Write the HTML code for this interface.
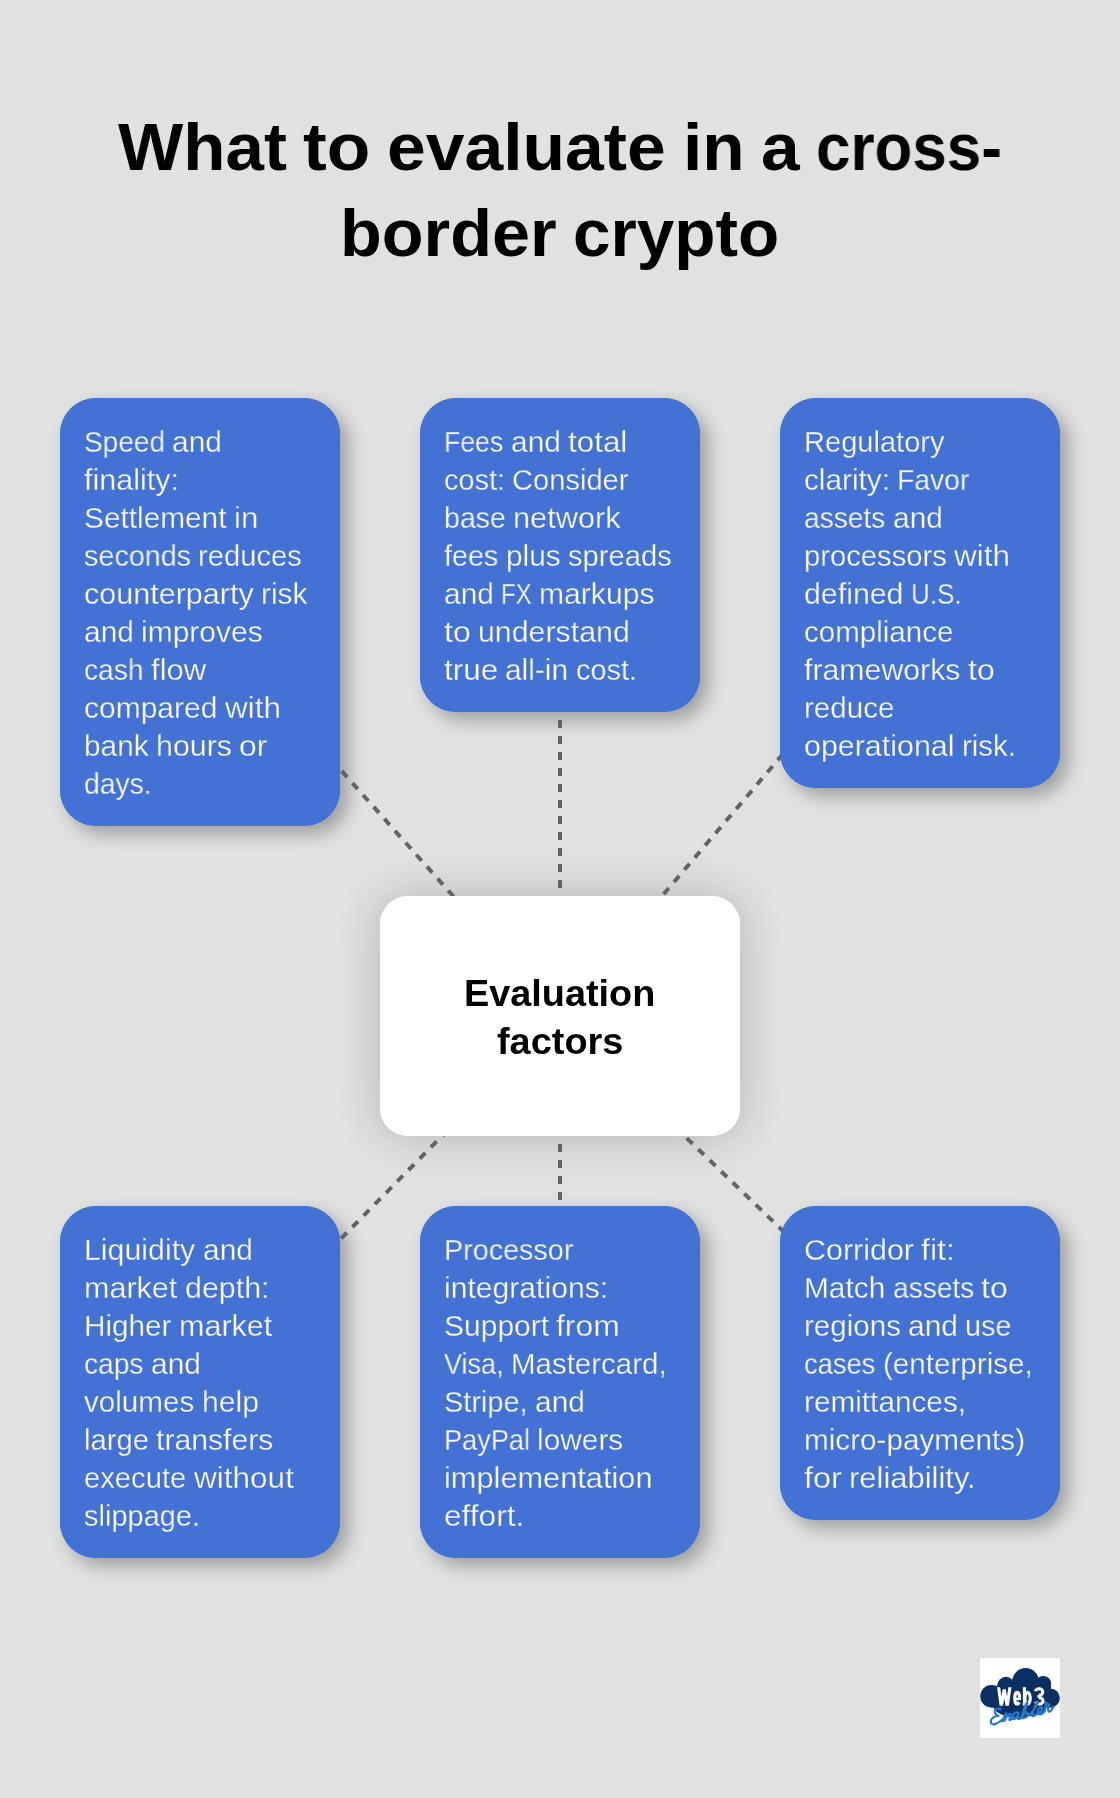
<!DOCTYPE html>
<html><head><meta charset="utf-8"><title>What to evaluate in a cross-border crypto</title>
<style>
html,body{margin:0;padding:0}
body{width:1120px;height:1798px;background:#dfe2e0;position:relative;overflow:hidden;font-family:"Liberation Sans",sans-serif}
.box{position:absolute;width:280px;background:#4472d4;border-radius:36px}
.box.sh{box-shadow:8px 8px 18px rgba(0,0,0,0.30)}
.center{position:absolute;left:380px;top:896px;width:360px;height:240px;background:#fff;border-radius:28px}
.center.sh{box-shadow:0 0 46px rgba(0,0,0,0.20)}
.ln{position:absolute;white-space:nowrap;line-height:1;transform-origin:0 50%;will-change:transform}
.ln.ctr{transform-origin:50% 50%;text-align:center}
.b{font-size:29.0px;color:#fff;-webkit-text-stroke:0.3px #4472d4}
.t{font-size:66.4px;font-weight:700;color:#000}
.c{font-size:37.4px;font-weight:700;color:#000}
svg.lines{position:absolute;left:0;top:0}
svg.lines line{stroke:#626364;stroke-width:4;stroke-dasharray:8 8}
.logo{position:absolute;left:980px;top:1658px;width:80px;height:80px;background:#fff}
.logo svg{display:block}
</style></head><body>
<div class="box sh" style="left:60px;top:398px;height:428px"></div>
<div class="box sh" style="left:420px;top:398px;height:314px"></div>
<div class="box sh" style="left:780px;top:398px;height:390px"></div>
<div class="box sh" style="left:60px;top:1206px;height:352px"></div>
<div class="box sh" style="left:420px;top:1206px;height:352px"></div>
<div class="box sh" style="left:780px;top:1206px;height:314px"></div>
<div class="center sh"></div>
<svg class="lines" width="1120" height="1798" viewBox="0 0 1120 1798"><line x1="560" y1="1016" x2="200" y2="612.0"/><line x1="560" y1="1016" x2="560" y2="555.0"/><line x1="560" y1="1016" x2="920" y2="593.0"/><line x1="560" y1="1016" x2="200" y2="1382.0"/><line x1="560" y1="1016" x2="560" y2="1382.0"/><line x1="560" y1="1016" x2="920" y2="1363.0"/></svg>
<div class="box" style="left:60px;top:398px;height:428px"></div>
<div class="box" style="left:420px;top:398px;height:314px"></div>
<div class="box" style="left:780px;top:398px;height:390px"></div>
<div class="box" style="left:60px;top:1206px;height:352px"></div>
<div class="box" style="left:420px;top:1206px;height:352px"></div>
<div class="box" style="left:780px;top:1206px;height:314px"></div>
<div class="center"></div>
<div class="ln b" style="left:84.00px;top:428.05px;transform:scaleX(0.9671)">Speed</div>
<div class="ln b" style="left:172.38px;top:428.05px;transform:scaleX(1.0315)">and</div>
<div class="ln b" style="left:84.00px;top:466.05px;transform:scaleX(1.0515)">finality:</div>
<div class="ln b" style="left:84.00px;top:504.05px;transform:scaleX(1.0276)">Settlement</div>
<div class="ln b" style="left:233.73px;top:504.05px;transform:scaleX(1.0748)">in</div>
<div class="ln b" style="left:84.00px;top:542.05px;transform:scaleX(0.9907)">seconds</div>
<div class="ln b" style="left:198.28px;top:542.05px;transform:scaleX(1.0069)">reduces</div>
<div class="ln b" style="left:84.00px;top:580.05px;transform:scaleX(1.0531)">counterparty</div>
<div class="ln b" style="left:261.04px;top:580.05px;transform:scaleX(1.0323)">risk</div>
<div class="ln b" style="left:84.00px;top:618.05px;transform:scaleX(1.0315)">and</div>
<div class="ln b" style="left:141.19px;top:618.05px;transform:scaleX(1.0345)">improves</div>
<div class="ln b" style="left:84.00px;top:656.05px;transform:scaleX(0.9703)">cash</div>
<div class="ln b" style="left:150.72px;top:656.05px;transform:scaleX(1.0714)">flow</div>
<div class="ln b" style="left:84.00px;top:694.05px;transform:scaleX(1.0337)">compared</div>
<div class="ln b" style="left:224.59px;top:694.05px;transform:scaleX(1.0844)">with</div>
<div class="ln b" style="left:84.00px;top:732.05px;transform:scaleX(1.0274)">bank</div>
<div class="ln b" style="left:155.89px;top:732.05px;transform:scaleX(1.0486)">hours</div>
<div class="ln b" style="left:239.23px;top:732.05px;transform:scaleX(1.0987)">or</div>
<div class="ln b" style="left:84.00px;top:770.05px;transform:scaleX(0.9754)">days.</div>
<div class="ln b" style="left:444.00px;top:428.05px;transform:scaleX(0.9185)">Fees</div>
<div class="ln b" style="left:510.50px;top:428.05px;transform:scaleX(1.0315)">and</div>
<div class="ln b" style="left:567.69px;top:428.05px;transform:scaleX(1.0822)">total</div>
<div class="ln b" style="left:444.00px;top:466.05px;transform:scaleX(0.9949)">cost:</div>
<div class="ln b" style="left:512.21px;top:466.05px;transform:scaleX(1.0038)">Consider</div>
<div class="ln b" style="left:444.00px;top:504.05px;transform:scaleX(0.9826)">base</div>
<div class="ln b" style="left:513.07px;top:504.05px;transform:scaleX(1.0596)">network</div>
<div class="ln b" style="left:444.00px;top:542.05px;transform:scaleX(0.9897)">fees</div>
<div class="ln b" style="left:505.54px;top:542.05px;transform:scaleX(1.0297)">plus</div>
<div class="ln b" style="left:567.59px;top:542.05px;transform:scaleX(1.0055)">spreads</div>
<div class="ln b" style="left:444.00px;top:580.05px;transform:scaleX(1.0315)">and</div>
<div class="ln b" style="left:501.19px;top:580.05px;transform:scaleX(0.8259)">FX</div>
<div class="ln b" style="left:539.07px;top:580.05px;transform:scaleX(1.0381)">markups</div>
<div class="ln b" style="left:444.00px;top:618.05px;transform:scaleX(1.1079)">to</div>
<div class="ln b" style="left:478.07px;top:618.05px;transform:scaleX(1.0462)">understand</div>
<div class="ln b" style="left:444.00px;top:656.05px;transform:scaleX(1.0845)">true</div>
<div class="ln b" style="left:505.48px;top:656.05px;transform:scaleX(1.0288)">all-in</div>
<div class="ln b" style="left:575.77px;top:656.05px;transform:scaleX(0.9949)">cost.</div>
<div class="ln b" style="left:804.00px;top:428.05px;transform:scaleX(1.0018)">Regulatory</div>
<div class="ln b" style="left:804.00px;top:466.05px;transform:scaleX(1.0253)">clarity:</div>
<div class="ln b" style="left:897.19px;top:466.05px;transform:scaleX(0.9764)">Favor</div>
<div class="ln b" style="left:804.00px;top:504.05px;transform:scaleX(0.9691)">assets</div>
<div class="ln b" style="left:892.51px;top:504.05px;transform:scaleX(1.0315)">and</div>
<div class="ln b" style="left:804.00px;top:542.05px;transform:scaleX(1.0079)">processors</div>
<div class="ln b" style="left:954.23px;top:542.05px;transform:scaleX(1.0844)">with</div>
<div class="ln b" style="left:804.00px;top:580.05px;transform:scaleX(1.0455)">defined</div>
<div class="ln b" style="left:910.76px;top:580.05px;transform:scaleX(0.8980)">U.S.</div>
<div class="ln b" style="left:804.00px;top:618.05px;transform:scaleX(1.0185)">compliance</div>
<div class="ln b" style="left:804.00px;top:656.05px;transform:scaleX(1.0438)">frameworks</div>
<div class="ln b" style="left:967.69px;top:656.05px;transform:scaleX(1.1079)">to</div>
<div class="ln b" style="left:804.00px;top:694.05px;transform:scaleX(1.0209)">reduce</div>
<div class="ln b" style="left:804.00px;top:732.05px;transform:scaleX(1.0488)">operational</div>
<div class="ln b" style="left:961.77px;top:732.05px;transform:scaleX(1.0159)">risk.</div>
<div class="ln b" style="left:84.00px;top:1236.05px;transform:scaleX(1.0455)">Liquidity</div>
<div class="ln b" style="left:202.52px;top:1236.05px;transform:scaleX(1.0315)">and</div>
<div class="ln b" style="left:84.00px;top:1274.05px;transform:scaleX(1.0530)">market</div>
<div class="ln b" style="left:184.61px;top:1274.05px;transform:scaleX(1.0484)">depth:</div>
<div class="ln b" style="left:84.00px;top:1312.05px;transform:scaleX(1.0230)">Higher</div>
<div class="ln b" style="left:178.68px;top:1312.05px;transform:scaleX(1.0530)">market</div>
<div class="ln b" style="left:84.00px;top:1350.05px;transform:scaleX(0.9698)">caps</div>
<div class="ln b" style="left:150.69px;top:1350.05px;transform:scaleX(1.0315)">and</div>
<div class="ln b" style="left:84.00px;top:1388.05px;transform:scaleX(1.0215)">volumes</div>
<div class="ln b" style="left:201.59px;top:1388.05px;transform:scaleX(1.0421)">help</div>
<div class="ln b" style="left:84.00px;top:1426.05px;transform:scaleX(1.0098)">large</div>
<div class="ln b" style="left:156.41px;top:1426.05px;transform:scaleX(1.0406)">transfers</div>
<div class="ln b" style="left:84.00px;top:1464.05px;transform:scaleX(1.0069)">execute</div>
<div class="ln b" style="left:193.55px;top:1464.05px;transform:scaleX(1.0873)">without</div>
<div class="ln b" style="left:84.00px;top:1502.05px;transform:scaleX(0.9984)">slippage.</div>
<div class="ln b" style="left:444.00px;top:1236.05px;transform:scaleX(0.9904)">Processor</div>
<div class="ln b" style="left:444.00px;top:1274.05px;transform:scaleX(1.0385)">integrations:</div>
<div class="ln b" style="left:444.00px;top:1312.05px;transform:scaleX(1.0346)">Support</div>
<div class="ln b" style="left:556.37px;top:1312.05px;transform:scaleX(1.1013)">from</div>
<div class="ln b" style="left:444.00px;top:1350.05px;transform:scaleX(0.9310)">Visa,</div>
<div class="ln b" style="left:510.81px;top:1350.05px;transform:scaleX(1.0162)">Mastercard,</div>
<div class="ln b" style="left:444.00px;top:1388.05px;transform:scaleX(0.9960)">Stripe,</div>
<div class="ln b" style="left:534.77px;top:1388.05px;transform:scaleX(1.0315)">and</div>
<div class="ln b" style="left:444.00px;top:1426.05px;transform:scaleX(0.9362)">PayPal</div>
<div class="ln b" style="left:537.30px;top:1426.05px;transform:scaleX(1.0293)">lowers</div>
<div class="ln b" style="left:444.00px;top:1464.05px;transform:scaleX(1.0604)">implementation</div>
<div class="ln b" style="left:444.00px;top:1502.05px;transform:scaleX(1.0915)">effort.</div>
<div class="ln b" style="left:804.00px;top:1236.05px;transform:scaleX(1.0503)">Corridor</div>
<div class="ln b" style="left:921.29px;top:1236.05px;transform:scaleX(1.1071)">fit:</div>
<div class="ln b" style="left:804.00px;top:1274.05px;transform:scaleX(1.0287)">Match</div>
<div class="ln b" style="left:892.53px;top:1274.05px;transform:scaleX(0.9691)">assets</div>
<div class="ln b" style="left:981.04px;top:1274.05px;transform:scaleX(1.1079)">to</div>
<div class="ln b" style="left:804.00px;top:1312.05px;transform:scaleX(1.0199)">regions</div>
<div class="ln b" style="left:908.29px;top:1312.05px;transform:scaleX(1.0315)">and</div>
<div class="ln b" style="left:965.48px;top:1312.05px;transform:scaleX(0.9890)">use</div>
<div class="ln b" style="left:804.00px;top:1350.05px;transform:scaleX(0.9414)">cases</div>
<div class="ln b" style="left:882.60px;top:1350.05px;transform:scaleX(1.0213)">(enterprise,</div>
<div class="ln b" style="left:804.00px;top:1388.05px;transform:scaleX(1.0260)">remittances,</div>
<div class="ln b" style="left:804.00px;top:1426.05px;transform:scaleX(1.0239)">micro-payments)</div>
<div class="ln b" style="left:804.00px;top:1464.05px;transform:scaleX(1.1178)">for</div>
<div class="ln b" style="left:849.10px;top:1464.05px;transform:scaleX(1.0672)">reliability.</div>
<div class="ln t" style="left:117.89px;top:113.78px;transform:scaleX(1.0410)">What</div>
<div class="ln t" style="left:303.42px;top:113.78px;transform:scaleX(1.0755)">to</div>
<div class="ln t" style="left:387.45px;top:113.78px;transform:scaleX(1.0489)">evaluate</div>
<div class="ln t" style="left:682.80px;top:113.78px;transform:scaleX(1.0440)">in</div>
<div class="ln t" style="left:761.02px;top:113.78px;transform:scaleX(1.0465)">a</div>
<div class="ln t" style="left:816.30px;top:113.78px;transform:scaleX(0.9324)">cross-</div>
<div class="ln t" style="left:340.27px;top:199.78px;transform:scaleX(1.0299)">border</div>
<div class="ln t" style="left:573.45px;top:199.78px;transform:scaleX(1.0166)">crypto</div>
<div class="ln c" style="left:464.33px;top:974.83px;transform:scaleX(1.0120)">Evaluation</div>
<div class="ln c" style="left:496.82px;top:1022.83px;transform:scaleX(1.0133)">factors</div>
<div class="logo"><svg width="80" height="80" viewBox="0 0 80 80">
<g fill="#0b2e63">
<circle cx="11.6" cy="38.3" r="11.3"/>
<circle cx="26" cy="27.6" r="8.8"/>
<circle cx="45.6" cy="23.4" r="13.3"/>
<circle cx="63.2" cy="26" r="8"/>
<circle cx="70.2" cy="40" r="9.6"/>
<rect x="11" y="28" width="60" height="21.5"/>
<circle cx="27" cy="46" r="9.5"/>
<ellipse cx="38" cy="47" rx="25" ry="12.8"/>
<circle cx="57" cy="46" r="10"/>
</g>
<g fill="none" stroke="#fff" stroke-width="3.1" stroke-linejoin="miter" stroke-miterlimit="1.2">
<clipPath id="cw"><rect x="16" y="29.2" width="50" height="18.5"/></clipPath>
<g clip-path="url(#cw)">
<path d="M18.5,28.4 L21.3,48.5 L24.25,31.5 L27.2,48.5 L30,28.4"/>
</g>
<ellipse cx="37.15" cy="40.25" rx="2.4" ry="5.9"/>
<path d="M34.6,40.8 H40.6" stroke-width="2.3"/>
<path d="M44.45,29.2 V47.7" stroke-width="3.2"/>
<ellipse cx="47.6" cy="40.25" rx="2.65" ry="5.9"/>
<ellipse cx="59.1" cy="33.95" rx="3.7" ry="3.2"/>
<ellipse cx="59.3" cy="42.9" rx="3.75" ry="3.25"/>
</g>
<g fill="#0b2e63">
<rect x="38.4" y="42.0" width="3.4" height="2.4"/>
<rect x="52.6" y="33.2" width="6.2" height="10.6"/>
</g>
<path d="M57.4,38.4 H60.5" stroke="#fff" stroke-width="2.6" fill="none"/>
<g fill="none" stroke="#2779cf" stroke-width="2.2" stroke-linecap="round" stroke-linejoin="round">
<path d="M20.8,51.2 C18.4,50 14.6,51 14.8,53.6 C15,55.8 16.8,57.4 18.6,57.8 C15,57.6 10.6,60.4 10.8,63.6 C11,66.8 14.6,67 17.2,65.2 C19.6,63.6 21.4,62.6 22.6,61.6"/>
<path d="M22.2,63.4 C23.4,60.4 24.8,57.4 26.2,55.2 C25.8,57.6 24.8,60.6 24.4,62.8 C25.8,59.8 28.4,55.6 30.2,55.8 C31.8,56.2 29.6,59.8 29.4,61.4 C29.3,62.8 31.2,62 32.4,60.6"/>
<path d="M38.4,55.2 C36.4,53.4 33.2,55.2 32.4,58.4 C31.8,61 34,61.8 35.8,60.2 C37.4,58.8 38.4,56.6 38.8,54.8 C38.2,57 37.2,59.8 38,60.8 C38.8,61.6 40.4,60.4 41.4,59.2"/>
<path d="M41.4,59.2 C43.8,55.6 46.4,50 47.2,45.6 C47.5,44.2 46.6,44.2 46.2,45.4 C44.4,49.8 42.2,56 41.6,60 C42.8,57.2 45.6,54.2 47.2,54.8 C48.8,55.6 47.4,59 45,59.8 C43.6,60.2 42.2,60.2 41.6,60 M47.8,57.4 C49.4,57 50.8,55.8 51.8,54.6"/>
<path d="M51.8,54.6 C54.4,51.4 57,47 57.8,44.6 C58.1,43.4 57.2,43.4 56.8,44.6 C55,48.6 52.6,54.2 52.2,57 C52,58.8 53.8,58.4 55.4,57"/>
<path d="M55.4,57 C58.4,56 62,53 62.2,50.4 C62.3,48.6 59.8,48.8 58.4,51.2 C57,53.6 57.4,56.6 60,56.4 C62.2,56.2 64,54.2 65,52.4"/>
<path d="M65,52.4 C65.6,50 66,46.6 65.8,44.4 C66.2,46 67.6,46.6 69.2,46.2 C68.2,48.2 67.6,52 68.6,53.4 C69.6,54.6 71.6,52.2 73.2,49.2"/>
</g>
</svg></div>
</body></html>
